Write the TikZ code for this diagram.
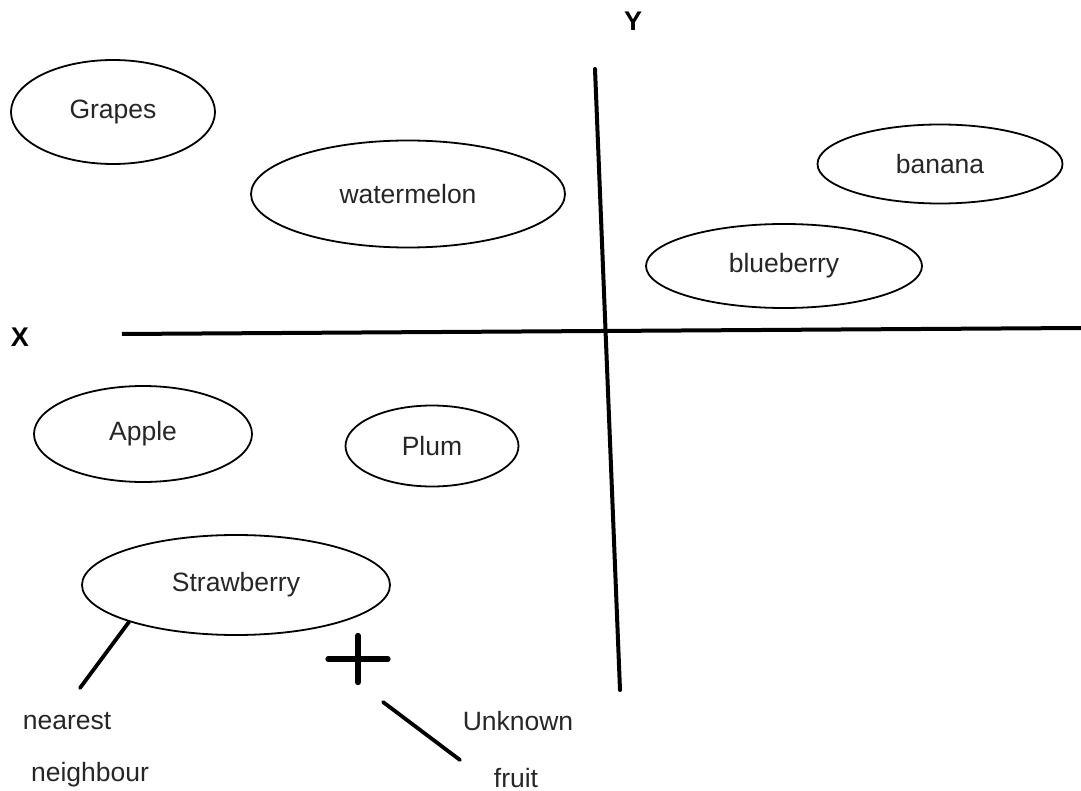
\documentclass[tikz,border=0pt]{standalone}
\usepackage{fontspec}
\setmainfont{Liberation Sans}
\usetikzlibrary{shapes.geometric}
\begin{document}
\begin{tikzpicture}[x=1pt,y=-1pt,
  fruit/.style={draw=black, line width=1.8pt, ellipse, inner sep=0pt, font=\fontsize{26.5}{30}\selectfont, text=black!85},
  axis/.style={line width=4pt, line cap=round},
  lbl/.style={font=\fontsize{26.5}{30}\selectfont, text=black!85, inner sep=0pt},
  axlbl/.style={font=\bfseries\fontsize{27}{30}\selectfont, inner sep=0pt},
  pointer/.style={line width=3.8pt, line cap=round}]
\useasboundingbox (0,0) rectangle (1081,791);
% axes
\coordinate (ytop) at (595,69);
\coordinate (ybot) at (620,690);
\coordinate (xl) at (122,334);
\coordinate (xr) at (1081,328);
\draw[axis] (ytop) -- (ybot);
\draw[axis, line cap=butt] (xl) -- (xr);
\node[axlbl] (ylab) at (633,21) {Y};
\node[axlbl] (xlab) at (20,337) {X};
% fruits
\node[fruit, minimum width=204pt, minimum height=104pt] (grapes) at (113,112) {Grapes};
\node[fruit, minimum width=314pt, minimum height=107pt] (watermelon) at (408,194) {watermelon};
\node[fruit, minimum width=245pt, minimum height=79pt] (banana) at (940,164) {banana};
\node[fruit, minimum width=276pt, minimum height=84pt] (blueberry) at (784,266) {blueberry};
\node[fruit, minimum width=218pt, minimum height=96pt] (apple) at (143,434) {Apple};
\node[fruit, minimum width=173pt, minimum height=81pt] (plum) at (432,446) {Plum};
\node[fruit, minimum width=308pt, minimum height=100pt] (strawberry) at (236,585) {Strawberry};
% unknown point
\node[inner sep=0pt, minimum width=59pt, minimum height=46pt] (plus) at (358,659) {};
\draw[pointer, line width=6pt] (plus.west) -- (plus.east);
\draw[pointer, line width=6pt] (plus.north) -- (plus.south);
% pointers
\coordinate (nnend) at (80,688);
\draw[pointer] (strawberry.199) -- (nnend);
\coordinate (ufstart) at (383,702);
\coordinate (ufend) at (460,760);
\draw[pointer] (ufstart) -- (ufend);
% labels
\node[lbl] (nearest) at (67,721) {nearest};
\node[lbl] (neighbour) at (90,775) {neighbour};
\node[lbl] (unknown) at (518,721) {Unknown};
\node[lbl] (fruit) at (516,778) {fruit};
\end{tikzpicture}
\end{document}
